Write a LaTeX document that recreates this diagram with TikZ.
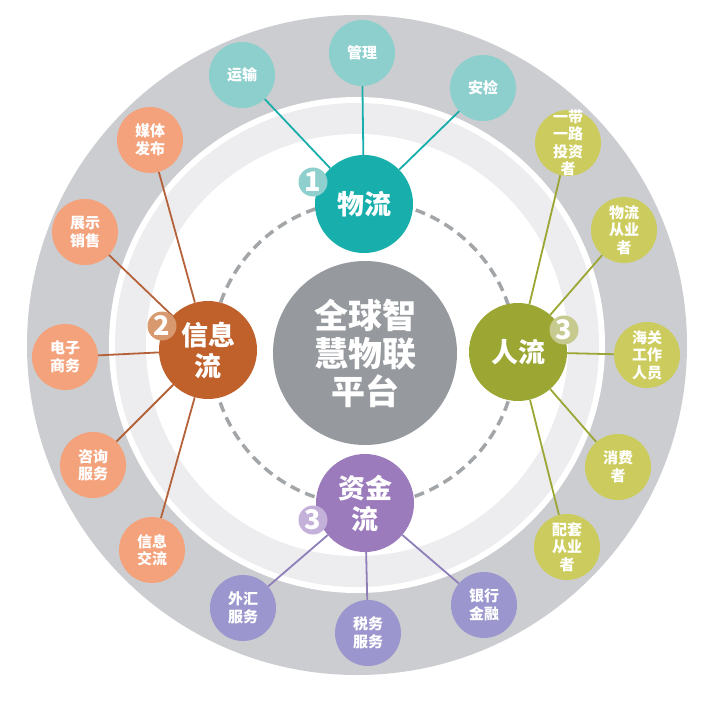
\documentclass[tikz,border=0pt]{standalone}
\usepackage{fontspec}
\newfontfamily\cjk{Noto Sans CJK SC}
\usetikzlibrary{positioning}

\definecolor{ringgray}{HTML}{CBCDD0}
\definecolor{ringlight}{HTML}{EDEDF0}
\definecolor{coregray}{HTML}{969A9E}
\definecolor{dashgray}{HTML}{A3A6A9}
\definecolor{wlmain}{HTML}{17AEAB}
\definecolor{wlleaf}{HTML}{8DCFCD}
\definecolor{wlbadge}{HTML}{8FD0CF}
\definecolor{xxmain}{HTML}{C0612B}
\definecolor{xxleaf}{HTML}{F4A27C}
\definecolor{xxbadge}{HTML}{D8996F}
\definecolor{xxline}{HTML}{B5623A}
\definecolor{rlmain}{HTML}{9BA633}
\definecolor{rlleaf}{HTML}{CCCC5E}
\definecolor{rlbadge}{HTML}{C6CA8E}
\definecolor{zjmain}{HTML}{9B7BBB}
\definecolor{zjleaf}{HTML}{9B97CE}
\definecolor{zjbadge}{HTML}{C3B1D9}
\definecolor{zjline}{HTML}{8F7FB8}

\begin{document}
\begin{tikzpicture}[
        x=1pt, y=-1pt,
        core/.style={circle, fill=coregray, text=white, minimum size=184pt, inner sep=0pt,
        align=center, font=\cjk\bfseries\fontsize{34}{38}\selectfont},
        hub/.style={circle, fill=#1, text=white, minimum size=98pt, inner sep=0pt,
        align=center, font=\cjk\bfseries\fontsize{27}{31}\selectfont},
        leaf/.style={circle, fill=#1, text=white, minimum size=66pt, inner sep=-10pt,
        align=center, font=\cjk\bfseries\fontsize{15}{17.5}\selectfont},
        badge/.style={circle, fill=#1, text=white, minimum size=29pt, inner sep=0pt,
        font=\cjk\bfseries\fontsize{27}{27}\selectfont},
        link/.style={line width=1.8pt, draw=#1},
        dashring/.style={line width=3.5pt, dashgray, dash pattern=on 10pt off 6pt}
      ]
      \useasboundingbox (0,0) rectangle (712,703);

      % Rings
      \fill[ringgray] (357,345) circle (330pt);
      \fill[white] (357,345) circle (248pt);
      \fill[ringlight] (357,345) circle (242pt);
      \fill[white] (357,345) circle (211pt);
      \draw[dashring] (364,353) circle (152pt);

      % Centre and the four flows
      \node[core] (core) at (365,353) {全球智\\慧物联\\平台};
      \node[hub=wlmain] (wl) at (364,204) {物流};
      \node[hub=xxmain] (xx) at (208,350) {信息\\流};
      \node[hub=rlmain] (rl) at (518,352) {人流};
      \node[hub=zjmain] (zj) at (365,503) {资金\\流};

      % Outer nodes
      \node[leaf=wlleaf] (ys) at (242,75) {运输};
      \node[leaf=wlleaf] (gl) at (362,53) {管理};
      \node[leaf=wlleaf] (aj) at (483,88) {安检};

      \node[leaf=xxleaf] (mt) at (150,140) {媒体\\发布};
      \node[leaf=xxleaf] (zs) at (85,232) {展示\\销售};
      \node[leaf=xxleaf] (dz) at (65,357) {电子\\商务};
      \node[leaf=xxleaf] (zx) at (93,465) {咨询\\服务};
      \node[leaf=xxleaf] (jl) at (152,550) {信息\\交流};

      \node[leaf=zjleaf] (wh) at (243,608) {外汇\\服务};
      \node[leaf=zjleaf] (sw) at (368,633) {税务\\服务};
      \node[leaf=zjleaf] (yh) at (484,605) {银行\\金融};

      \node[leaf=rlleaf] (yd) at (568,143) {一带\\一路\\投资\\者};
      \node[leaf=rlleaf] (cy) at (624,230) {物流\\从业\\者};
      \node[leaf=rlleaf] (hg) at (647,355) {海关\\工作\\人员};
      \node[leaf=rlleaf] (xf) at (618,467) {消费\\者};
      \node[leaf=rlleaf] (pt) at (567,547) {配套\\从业\\者};

      % Connectors
      \draw[link=wlmain] (ys) -- (wl);
      \draw[link=wlmain] (gl) -- (wl);
      \draw[link=wlmain] (aj) -- (wl);

      \draw[link=xxline] (mt) -- (xx);
      \draw[link=xxline] (zs) -- (xx);
      \draw[link=xxline] (dz) -- (xx);
      \draw[link=xxline] (zx) -- (xx);
      \draw[link=xxline] (jl) -- (xx);

      \draw[link=zjline] (wh) -- (zj);
      \draw[link=zjline] (sw) -- (zj);
      \draw[link=zjline] (yh) -- (zj);

      \draw[link=rlmain] (yd) -- (rl);
      \draw[link=rlmain] (cy) -- (rl);
      \draw[link=rlmain] (hg) -- (rl);
      \draw[link=rlmain] (xf) -- (rl);
      \draw[link=rlmain] (pt) -- (rl);

      % Number badges
      \node[badge=wlbadge] (n1) at (313,182) {1};
      \node[badge=xxbadge] (n2) at (162,326) {2};
      \node[badge=rlbadge] (n3) at (564,330) {3};
      \node[badge=zjbadge] (n4) at (313,520) {3};
    \end{tikzpicture}
\end{document}
